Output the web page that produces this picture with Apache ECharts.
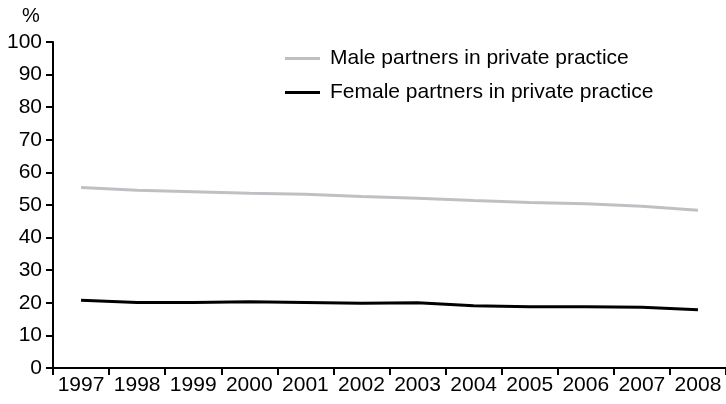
<!DOCTYPE html>
<html>
<head>
<meta charset="utf-8">
<script src="https://cdn.jsdelivr.net/npm/echarts@6/dist/echarts.min.js"></script>
<style>
  html, body { margin: 0; padding: 0; background: #fff; }
  #chart { width: 726px; height: 404px; }
</style>
</head>
<body>
<div id="chart"></div>
<script>
// data
const years = ['1997', '1998', '1999', '2000', '2001', '2002', '2003', '2004', '2005', '2006', '2007', '2008'];
const malePartners = [55.4, 54.5, 54.1, 53.6, 53.3, 52.6, 52.1, 51.4, 50.8, 50.4, 49.6, 48.4];
const femalePartners = [20.8, 20.1, 20.1, 20.3, 20.1, 19.9, 20.0, 19.1, 18.8, 18.8, 18.6, 17.9];
const seriesNames = ['Male partners in private practice', 'Female partners in private practice'];

const font = 'Liberation Sans, Arial, sans-serif';

const chart = echarts.init(document.getElementById('chart'));
chart.setOption({
  animation: false,
  textStyle: { fontFamily: font },
  grid: { left: 53, right: 0, top: 42, bottom: 36 },
  graphic: [{
    type: 'text',
    left: 22,
    top: 6,
    style: { text: '%', font: '20px ' + font, fill: '#000' }
  }],
  legend: {
    orient: 'vertical',
    left: 280,
    top: 43,
    itemWidth: 35,
    itemHeight: 3,
    itemGap: 13,
    icon: 'rect',
    textStyle: { fontSize: 21, color: '#000', fontFamily: font, padding: [0, 0, 0, 5] },
    data: seriesNames
  },
  xAxis: {
    type: 'category',
    data: years,
    boundaryGap: true,
    axisLine: { lineStyle: { color: '#000', width: 2 } },
    axisTick: { show: true, length: 7, lineStyle: { color: '#000', width: 2 } },
    axisLabel: { color: '#000', fontSize: 21, margin: 7, fontFamily: font, interval: 0 }
  },
  yAxis: {
    type: 'value',
    min: 0,
    max: 100,
    interval: 10,
    axisLine: { show: true, lineStyle: { color: '#000', width: 2 } },
    axisTick: { show: true, length: 7, lineStyle: { color: '#000', width: 2 } },
    axisLabel: { color: '#000', fontSize: 21, margin: 11, fontFamily: font },
    splitLine: { show: false }
  },
  series: [
    {
      name: seriesNames[0],
      type: 'line',
      data: malePartners,
      symbol: 'none',
      lineStyle: { color: '#c0c0c4', width: 3 },
      itemStyle: { color: '#c0c0c4' }
    },
    {
      name: seriesNames[1],
      type: 'line',
      data: femalePartners,
      symbol: 'none',
      lineStyle: { color: '#000', width: 3 },
      itemStyle: { color: '#000' }
    }
  ]
});
</script>
</body>
</html>
